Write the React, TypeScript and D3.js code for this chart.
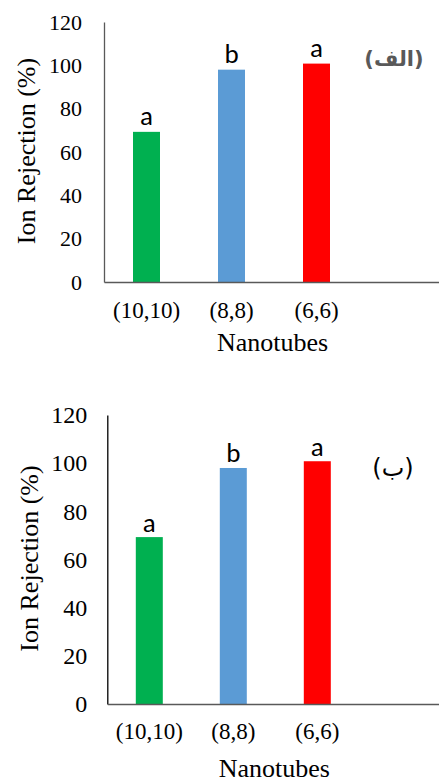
import React, { useRef, useEffect } from 'react'
import * as d3 from 'd3'

const categories = ['(10,10)', '(8,8)', '(6,6)']
const rejection = [69.3, 98, 100.8]
const letters = ['a', 'b', 'a']
const barColors = ['#00B050', '#5B9BD5', '#FF0000']
const yTicks = [0, 20, 40, 60, 80, 100, 120]

const panels = [
  {
    tag: '(الف)', tagColor: '#595959', tagWeight: 'bold', tagSize: 21, tagX: 394, tagY: 66,
    left: 104, top: 22, bottom: 282, step: 85, yAxisColor: '#595959', tickPad: 22,
    tickSize: 22, labelY: 318, titleY: 351, yTitleX: 35, letterGap: 6.5,
  },
  {
    tag: '(ب)', tagColor: '#000', tagWeight: 'normal', tagSize: 24, tagX: 393, tagY: 476,
    left: 107.3, top: 415, bottom: 704, step: 84, yAxisColor: '#000', tickPad: 20,
    tickSize: 24, labelY: 739, titleY: 777, yTitleX: 38, letterGap: 5.5,
  },
]

const width = 439, height = 782
const serif = 'Liberation Serif'
const sans = 'Carlito'

export default function App() {
  const svgRef = useRef<SVGSVGElement>(null)

  useEffect(() => {
    const svg = d3.select(svgRef.current)
    svg.selectAll('*').remove()

    panels.forEach(p => {
      const g = svg.append('g')
      const n = categories.length + 1
      const pad = 1 - 27 / p.step
      const x = d3.scaleBand<string>()
        .domain([...categories, ''])
        .range([p.left, p.left + p.step * n])
        .paddingInner(pad).paddingOuter(pad / 2)
      const y = d3.scaleLinear().domain([0, 120]).range([p.bottom, p.top])

      // bars
      g.selectAll('rect.bar')
        .data(rejection)
        .join('rect')
        .attr('class', 'bar')
        .attr('x', (d, i) => x(categories[i])!)
        .attr('y', d => y(d))
        .attr('width', x.bandwidth())
        .attr('height', d => y(0) - y(d))
        .attr('fill', (d, i) => barColors[i])

      // significance letters
      g.selectAll('text.letter')
        .data(rejection)
        .join('text')
        .attr('class', 'letter')
        .attr('x', (d, i) => x(categories[i])! + x.bandwidth() / 2)
        .attr('y', d => y(d) - p.letterGap)
        .attr('text-anchor', 'middle')
        .style('font-family', sans).style('font-size', '27px').attr('fill', '#000')
        .text((d, i) => letters[i])

      // y axis
      const ya = g.append('g')
        .attr('transform', `translate(${p.left},0)`)
        .call(d3.axisLeft(y).tickValues(yTicks).tickSize(0).tickPadding(p.tickPad))
      ya.select('.domain').attr('stroke', p.yAxisColor).attr('stroke-width', 1.3)
      ya.selectAll('text')
        .style('font-family', serif).style('font-size', `${p.tickSize}px`).attr('fill', '#000')

      // x axis
      const xa = g.append('g')
        .attr('transform', `translate(0,${p.bottom})`)
        .call(d3.axisBottom(x).tickSize(0).tickPadding(0))
      xa.select('.domain').attr('stroke', '#595959').attr('stroke-width', 1.6)
      xa.selectAll('text')
        .attr('y', p.labelY - p.bottom).attr('dy', 0)
        .style('font-family', serif).style('font-size', '23px').attr('fill', '#000')

      g.append('text')
        .attr('x', x('(8,8)')! + x.bandwidth() / 2 + 41).attr('y', p.titleY)
        .attr('text-anchor', 'middle')
        .style('font-family', serif).style('font-size', '26px').attr('fill', '#000')
        .text('Nanotubes')

      g.append('text')
        .attr('transform', 'rotate(-90)')
        .attr('x', -(p.top + p.bottom) / 2 + 1).attr('y', p.yTitleX)
        .attr('text-anchor', 'middle')
        .style('font-family', serif).style('font-size', '26px').attr('fill', '#000')
        .text('Ion Rejection (%)')

      g.append('text')
        .attr('x', p.tagX).attr('y', p.tagY)
        .attr('text-anchor', 'middle')
        .style('font-family', 'DejaVu Sans')
        .style('font-weight', p.tagWeight).style('font-size', `${p.tagSize}px`)
        .attr('fill', p.tagColor)
        .text(p.tag)
    })
  }, [])

  return (
    <svg ref={svgRef} width={width} height={height}
      style={{ position: 'absolute', left: 0, top: 0, background: '#fff' }} />
  )
}
